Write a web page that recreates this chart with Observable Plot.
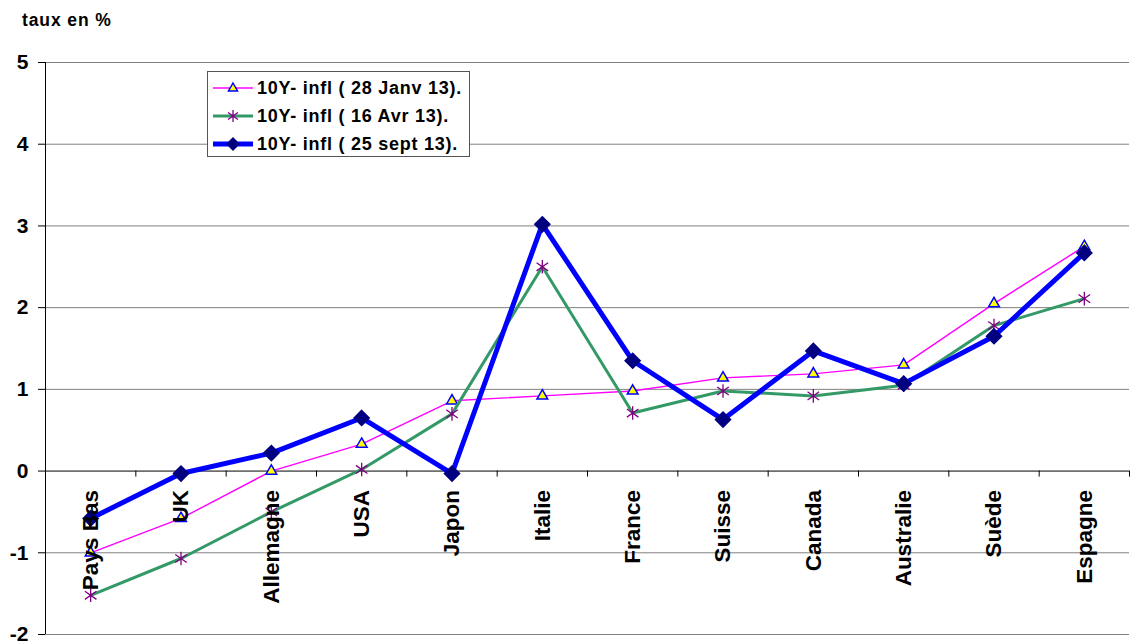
<!DOCTYPE html>
<html>
<head>
<meta charset="utf-8">
<script src="https://cdn.jsdelivr.net/npm/d3@7"></script>
<script src="https://cdn.jsdelivr.net/npm/@observablehq/plot@0.6"></script>
<style>
  html, body { margin: 0; padding: 0; background: #fff; }
  body { width: 1130px; height: 643px; position: relative; overflow: hidden; font-family: "Liberation Sans", Arial, sans-serif; }
  #title { position: absolute; left: 22px; top: 10px; font-size: 17.5px; font-weight: bold; letter-spacing: 0.9px; color: #000; }
  #legend { position: absolute; left: 207px; top: 71px; width: 263px; height: 86px; border: 1px solid #555; background: #fff; box-sizing: border-box; }
  .row { position: absolute; left: 3px; height: 24px; display: flex; align-items: center; }
  .row span { font-size: 18px; font-weight: bold; letter-spacing: 0.75px; margin-left: 2px; white-space: nowrap; }
  #chart { position: absolute; left: 0; top: 0; }
  #chart g[aria-label^="y-axis"] text { font-size: 21px !important; font-weight: bold !important; }
</style>
</head>
<body>
<div id="chart"></div>
<div id="title">taux en %</div>
<div id="legend"></div>
<script>
const countries = ["Pays Bas","UK","Allemagne","USA","Japon","Italie","France","Suisse","Canada","Australie","Suède","Espagne"];
const seriesNames = ["10Y- infl ( 28 Janv 13).","10Y- infl ( 16 Avr 13).","10Y- infl ( 25 sept 13)."];
const janv = [-1.00,-0.58,0.00,0.33,0.86,0.92,0.98,1.14,1.19,1.30,2.05,2.75];
const avr  = [-1.52,-1.07,-0.50,0.02,0.70,2.50,0.71,0.98,0.92,1.05,1.78,2.11];
const sept = [-0.58,-0.03,0.22,0.65,-0.03,3.02,1.35,0.63,1.47,1.07,1.65,2.67];
const yTicks = [-2,-1,0,1,2,3,4,5];

const pos = countries.map((c, i) => i + 0.5);
const bounds = d3.range(0, countries.length + 1);
const rows = (vals) => countries.map((c, i) => ({country: c, pos: pos[i], value: vals[i]}));
const dJ = rows(janv), dA = rows(avr), dS = rows(sept);

const asterisk = {
  draw(ctx, size) {
    const r = Math.sqrt(size / Math.PI);
    const a = r * 0.85, b = r * 0.6;
    ctx.moveTo(0, -r); ctx.lineTo(0, r);
    ctx.moveTo(-a, -b); ctx.lineTo(a, b);
    ctx.moveTo(-a, b); ctx.lineTo(a, -b);
  }
};

const chart = Plot.plot({
  width: 1130,
  height: 643,
  marginLeft: 45,
  marginRight: 1,
  marginTop: 62,
  marginBottom: 9,
  style: {background: "transparent", fontFamily: "Liberation Sans, Arial, sans-serif", overflow: "visible"},
  x: {domain: [0, countries.length], axis: null},
  y: {domain: [-2, 5], ticks: yTicks, tickSize: 7, tickPadding: 10, tickFormat: d => d, label: null},
  marks: [
    Plot.ruleY(yTicks.filter(d => d !== 0), {y: d => d, stroke: "#808080", strokeWidth: 1}),
    Plot.ruleY([0], {stroke: "#000", strokeWidth: 1}),
    Plot.ruleX(bounds, {x: d => d, y1: 0, y2: 0, insetBottom: -6, stroke: "#000"}),
    Plot.ruleX([0], {y1: -2, y2: 5, stroke: "#000", strokeWidth: 1}),
    Plot.line(dJ, {x: "pos", y: "value", stroke: "#FF00FF", strokeWidth: 1.4}),
    Plot.dot(dJ, {x: "pos", y: "value", symbol: "triangle", r: 4, fill: "#FFFF00", stroke: "#0000FF", strokeWidth: 1.5}),
    Plot.line(dA, {x: "pos", y: "value", stroke: "#339966", strokeWidth: 3}),
    Plot.dot(dA, {x: "pos", y: "value", symbol: asterisk, r: 6.8, fill: "none", stroke: "#800080", strokeWidth: 1.3}),
    Plot.line(dS, {x: "pos", y: "value", stroke: "#0000FF", strokeWidth: 5, strokeLinejoin: "miter"}),
    Plot.dot(dS, {x: "pos", y: "value", symbol: "diamond2", r: 6.8, fill: "#000080", stroke: "#000080"}),
    Plot.text(countries, {x: (d, i) => pos[i], y: 0, text: d => d, rotate: -90, textAnchor: "end",
      dy: 19, fontSize: 22.5, fontWeight: "bold", fill: "#000"})
  ]
});
document.getElementById("chart").appendChild(chart);

// legend
const legendDefs = [
  {name: seriesNames[0], line: "#FF00FF", lw: 1.4, marker: "tri"},
  {name: seriesNames[1], line: "#339966", lw: 3, marker: "ast"},
  {name: seriesNames[2], line: "#0000FF", lw: 5, marker: "dia"}
];
const leg = document.getElementById("legend");
legendDefs.forEach((d, k) => {
  const row = document.createElement("div");
  row.className = "row";
  row.style.top = (4 + k * 28) + "px";
  let mk = "";
  if (d.marker === "tri") mk = '<path d="M22,7 L26.5,15 L17.5,15 Z" fill="#FFFF00" stroke="#0000FF" stroke-width="1.5"/>';
  if (d.marker === "ast") mk = '<path d="M22,6 L22,18 M17,8.5 L27,15.5 M17,15.5 L27,8.5" stroke="#800080" stroke-width="1.3" fill="none"/>';
  if (d.marker === "dia") mk = '<path d="M22,5 L29,12 L22,19 L15,12 Z" fill="#000080"/>';
  row.innerHTML = `<svg width="44" height="24"><line x1="2" x2="42" y1="12" y2="12" stroke="${d.line}" stroke-width="${d.lw}"/>${mk}</svg><span>${d.name}</span>`;
  leg.appendChild(row);
});
</script>
</body>
</html>
